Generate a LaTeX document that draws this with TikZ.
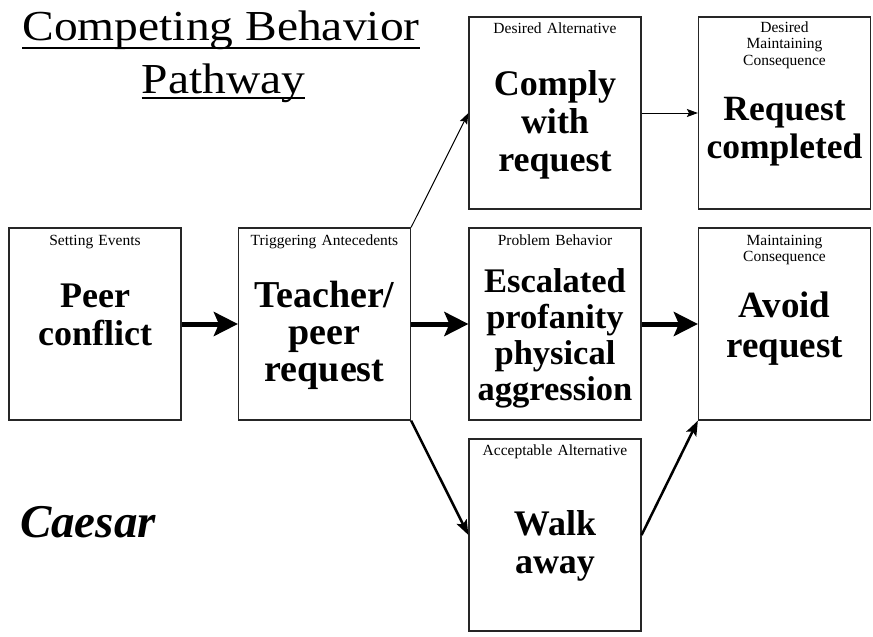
\documentclass[tikz,border=0pt]{standalone}
\usepackage{fontspec}
\setmainfont{Liberation Serif}
\usetikzlibrary{arrows.meta}
\begin{document}
\begin{tikzpicture}[x=1pt,y=-1pt,
  box/.style={draw=black!85, line width=1.2pt, minimum width=172pt, minimum height=192pt, inner sep=0pt},
  lbl/.style={font=\fontsize{15.5}{16.5}\selectfont, align=center, text width=170pt, anchor=base, inner sep=0pt},
  big/.style={font=\fontsize{36}{38}\selectfont\bfseries, align=center, text width=170pt, anchor=base, inner sep=0pt},
  heavyarrow/.style={line width=5pt, -{Stealth[length=24pt,width=24pt,inset=5pt]}},
  midarrow/.style={line width=2.5pt, -{Stealth[length=15pt,width=11pt,inset=3pt]}},
  thinarrow/.style={line width=1pt, -{Stealth[length=11pt,width=8pt,inset=2pt]}},
  ttl/.style={font=\fontsize{47.5}{47.5}\selectfont, anchor=base, inner sep=0pt}
]
\useasboundingbox (0,0) rectangle (873,637);
% boxes
\node[box] (se) at (95,324) {};
\node[box] (ta) at (324.5,324) {};
\node[box] (da) at (555,113) {};
\node[box] (dm) at (784.5,113) {};
\node[box] (pb) at (555,324) {};
\node[box] (mc) at (784.5,324) {};
\node[box] (aa) at (555,535) {};
% labels
\node[lbl] (sel) at (95,245) {Setting Events};
\node[lbl] (tal) at (324.5,245) {Triggering Antecedents};
\node[lbl] (dal) at (555,33) {Desired Alternative};
\node[lbl] (dml) at (784.5,32) {Desired\\Maintaining\\Consequence};
\node[lbl] (pbl) at (555,245) {Problem Behavior};
\node[lbl] (mcl) at (784.5,245) {Maintaining\\Consequence};
\node[lbl] (aal) at (555,455) {Acceptable Alternative};
% main texts
\node[big] (set) at (95,307) {Peer\\conflict};
\node[big, font=\fontsize{38}{37}\selectfont\bfseries] (tat) at (324.5,307) {Teacher/\\peer\\request};
\node[big] (dat) at (555,95) {Comply\\with\\request};
\node[big, font=\fontsize{35.5}{38}\selectfont\bfseries] (dmt) at (784.5,120) {Request\\completed};
\node[big, font=\fontsize{34.5}{36}\selectfont\bfseries] (pbt) at (555,292) {Escalated\\profanity\\physical\\aggression};
\node[big, font=\fontsize{37}{40}\selectfont\bfseries] (mct) at (784.5,317) {Avoid\\request};
\node[big] (aat) at (555,535) {Walk\\away};
% title
\node[ttl] (t1) at (221,40) {\scalebox{1}[0.9]{Competing Behavior}};
\node[ttl] (t2) at (223.5,93) {\scalebox{1}[0.9]{Pathway}};
\draw[line width=2pt] ([yshift=-8pt]t1.base west) -- ([yshift=-8pt]t1.base east);
\draw[line width=2pt] ([yshift=-5pt]t2.base west) -- ([yshift=-5pt]t2.base east);
\node[font=\fontsize{47}{47}\selectfont\bfseries\itshape, anchor=base, inner sep=0pt] (cae) at (88,537) {Caesar};
% connectors
\draw[heavyarrow] (se.east) -- (ta.west);
\draw[heavyarrow] (ta.east) -- (pb.west);
\draw[heavyarrow] (pb.east) -- (mc.west);
\draw[thinarrow] (ta.north east) -- (da.west);
\draw[thinarrow] (da.east) -- (dm.west);
\draw[midarrow] (ta.south east) -- (aa.west);
\draw[midarrow] (aa.east) -- (mc.south west);
\end{tikzpicture}
\end{document}
